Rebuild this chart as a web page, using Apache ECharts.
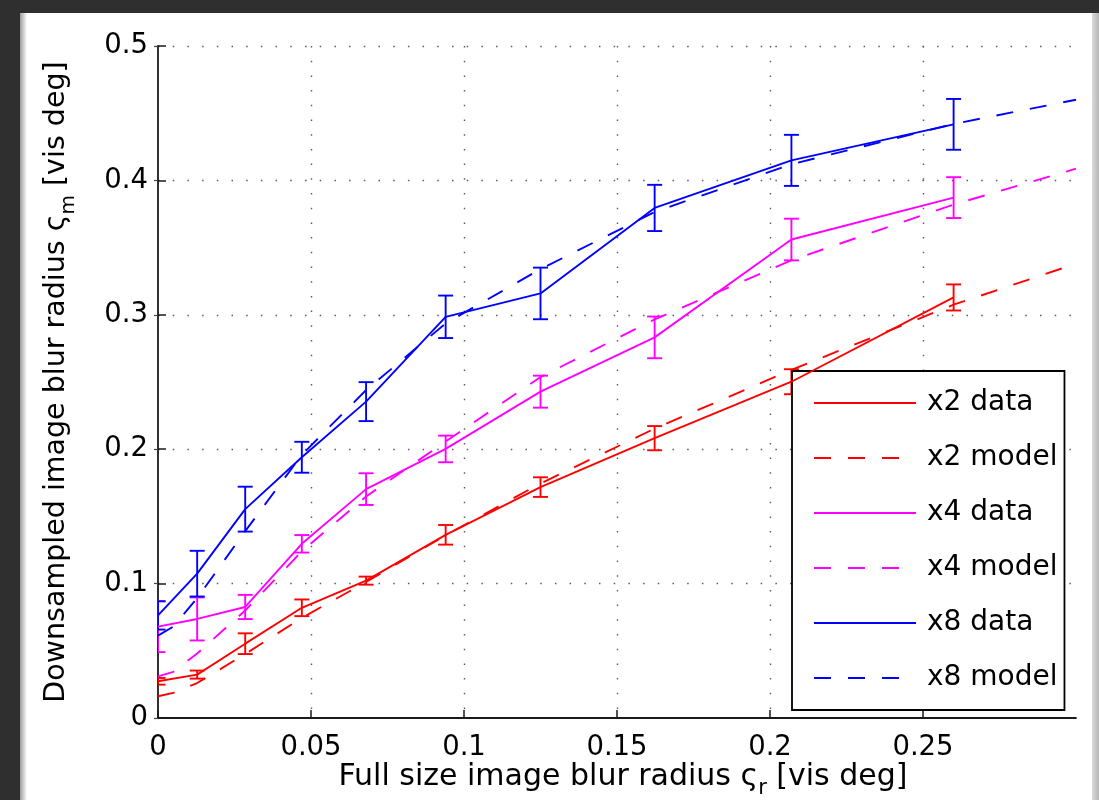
<!DOCTYPE html>
<html>
<head>
<meta charset="utf-8">
<script src="https://cdn.jsdelivr.net/npm/echarts@6/dist/echarts.min.js"></script>
<style>
  html, body { margin: 0; padding: 0; width: 1099px; height: 800px; overflow: hidden; background: #2f2f2f; }
  #sheet { position: absolute; left: 20px; top: 13px; width: 1072px; height: 787px; background: #fff; }
  #sheet:before { content: ''; position: absolute; left: 0; top: 0; width: 7px; height: 100%;
                  background: linear-gradient(to right, #9c9c9c, #ffffff); }
  #edge { position: absolute; left: 1092px; top: 13px; width: 7px; height: 787px;
          background: linear-gradient(to right, #dcdcdc, #b4b4b4); }
  #chart { position: absolute; left: 0; top: 0; width: 1099px; height: 800px; }
</style>
</head>
<body>
<div id="sheet"></div>
<div id="edge"></div>
<div id="chart"></div>
<script>
// Measured blur radii at each full-size blur level (vis deg)
const sampleX = [0, 0.0128, 0.0285, 0.047, 0.068, 0.094, 0.125, 0.1623, 0.207, 0.26];
const x2Data  = [0.0273, 0.0323, 0.0553, 0.0820, 0.1022, 0.1363, 0.1718, 0.2082, 0.2502, 0.3129];
const x2Err   = [0.0025, 0.0030, 0.0077, 0.0062, 0.0030, 0.0073, 0.0073, 0.0090, 0.0093, 0.0097];
const x4Data  = [0.0680, 0.0737, 0.0826, 0.1296, 0.1703, 0.2002, 0.2428, 0.2832, 0.3560, 0.3872];
const x4Err   = [0.0190, 0.0160, 0.0090, 0.0065, 0.0118, 0.0099, 0.0119, 0.0155, 0.0155, 0.0152];
const x8Data  = [0.0763, 0.1074, 0.1554, 0.1940, 0.2354, 0.2985, 0.3159, 0.3795, 0.4149, 0.4417];
const x8Err   = [0.0105, 0.0170, 0.0167, 0.0115, 0.0145, 0.0158, 0.0192, 0.0172, 0.0190, 0.0189];

// Model predictions
const modelX  = [0, 0.005, 0.0128, 0.0285, 0.047, 0.068, 0.094, 0.125, 0.1623, 0.207, 0.26, 0.3];
const x2Model = [0.0162, 0.0187, 0.0260, 0.0476, 0.0745, 0.1012, 0.1360, 0.1745, 0.2153, 0.2590, 0.3075, 0.3380];
const x4Model = [0.0310, 0.0343, 0.0480, 0.0800, 0.1240, 0.1648, 0.2057, 0.2537, 0.2966, 0.3406, 0.3820, 0.4087];
const x8Model = [0.0613, 0.0680, 0.0892, 0.1390, 0.1958, 0.2440, 0.2936, 0.3340, 0.3765, 0.4120, 0.4420, 0.4600];

const xTicks = [0, 0.05, 0.1, 0.15, 0.2, 0.25, 0.3];
const yTicks = [0, 0.1, 0.2, 0.3, 0.4, 0.5];

const RED = '#ff0000', MAGENTA = '#ff00ff', BLUE = '#0000ff';
const FONT = 'DejaVu Sans';
const DASH = [17, 17];
const LW = 1.9;

function pairs(xs, ys) { return xs.map((x, i) => [x, ys[i]]); }

function lineSeries(name, xs, ys, color, dashed) {
  return {
    type: 'line', name: name, data: pairs(xs, ys),
    symbol: 'none', showSymbol: false, smooth: false,
    lineStyle: { color: color, width: LW, type: dashed ? DASH : 'solid' },
    itemStyle: { color: color },
    z: 4, silent: true
  };
}

function errorBars(name, values, errs, color) {
  return {
    type: 'custom', name: name, clip: true, silent: true, z: 3,
    data: sampleX.map((x, i) => [x, values[i], errs[i]]),
    encode: { x: 0, y: 1 },
    renderItem: function (params, api) {
      const x = api.value(0), y = api.value(1), e = api.value(2);
      const lo = api.coord([x, y - e]);
      const hi = api.coord([x, y + e]);
      const hw = 7.5;
      const style = { stroke: color, lineWidth: LW, fill: null };
      return {
        type: 'group',
        children: [
          { type: 'line', shape: { x1: lo[0], y1: lo[1], x2: hi[0], y2: hi[1] }, style: style },
          { type: 'line', shape: { x1: lo[0] - hw, y1: lo[1], x2: lo[0] + hw, y2: lo[1] }, style: style },
          { type: 'line', shape: { x1: hi[0] - hw, y1: hi[1], x2: hi[0] + hw, y2: hi[1] }, style: style }
        ]
      };
    }
  };
}

const fmt = v => String(+(+v).toFixed(2));
const gridDots = { show: true, lineStyle: { color: '#5a5a5a', width: 1.4, type: [1.5, 13.2] } };

const chart = echarts.init(document.getElementById('chart'), null, { renderer: 'canvas' });
chart.setOption({
  animation: false,
  backgroundColor: 'transparent',
  textStyle: { fontFamily: FONT },
  grid: { left: 158, right: 23, top: 46, bottom: 82, containLabel: false, outerBoundsMode: 'none' },
  xAxis: {
    type: 'value', min: xTicks[0], max: xTicks[xTicks.length - 1], interval: 0.05,
    axisLine: { show: true, onZero: false, lineStyle: { color: '#1a1a1a', width: 1.8 } },
    axisTick: { show: true, inside: true, length: 8, lineStyle: { color: '#1a1a1a', width: 1.5 } },
    axisLabel: { show: true, margin: 16, fontSize: 27.5, color: '#000', fontFamily: FONT,
                 showMaxLabel: false, formatter: fmt },
    splitLine: Object.assign({ showMinLine: false, showMaxLine: false }, gridDots),
    name: '{a|Full size image blur radius ς}{s|r}{a| [vis deg]}',
    nameLocation: 'middle', nameGap: 37, nameMoveOverlap: false,
    nameTextStyle: {
      padding: [0, 0, 0, 12],
      rich: {
        a: { fontSize: 30, fontFamily: FONT, color: '#000', lineHeight: 44 },
        s: { fontSize: 21, fontFamily: FONT, color: '#000', lineHeight: 20, verticalAlign: 'bottom' }
      }
    }
  },
  yAxis: [{
    type: 'value', min: yTicks[0], max: yTicks[yTicks.length - 1], interval: 0.1,
    axisLine: { show: true, onZero: false, lineStyle: { color: '#1a1a1a', width: 1.8 } },
    axisTick: { show: true, inside: true, length: 8, lineStyle: { color: '#1a1a1a', width: 1.5 } },
    axisLabel: { show: true, margin: 10, fontSize: 27.5, color: '#000', fontFamily: FONT, formatter: fmt },
    splitLine: Object.assign({ showMinLine: false, showMaxLine: true }, gridDots),
    name: '{a|Downsampled image blur radius ς}{s|m}{a| [vis deg]}',
    nameLocation: 'middle', nameGap: 79, nameMoveOverlap: false,
    nameTextStyle: {
      rich: {
        a: { fontSize: 28.5, fontFamily: FONT, color: '#000', lineHeight: 44 },
        s: { fontSize: 20, fontFamily: FONT, color: '#000', lineHeight: 20, verticalAlign: 'bottom' }
      }
    }
  }, {
    type: 'value', position: 'right', min: yTicks[0], max: yTicks[yTicks.length - 1], interval: 0.1,
    axisLine: { show: false },
    axisTick: { show: true, inside: true, length: 4, lineStyle: { color: '#444', width: 1.2 } },
    axisLabel: { show: false },
    splitLine: { show: false }
  }],
  legend: {
    orient: 'vertical', left: 792, top: 371,
    data: ['x2 data', 'x2 model', 'x4 data', 'x4 model', 'x8 data', 'x8 model'],
    selectedMode: false,
    backgroundColor: '#fff', borderColor: '#000', borderWidth: 1.8, borderRadius: 0,
    padding: [18, 7, 18, 21],
    itemWidth: 102, itemHeight: 27, itemGap: 27,
    itemStyle: { opacity: 0 },
    textStyle: { fontSize: 28, color: '#000', fontFamily: FONT, padding: [0, 0, 0, 6] }
  },
  series: [
    lineSeries('x2 data', sampleX, x2Data, RED, false),
    lineSeries('x2 model', modelX, x2Model, RED, true),
    lineSeries('x4 data', sampleX, x4Data, MAGENTA, false),
    lineSeries('x4 model', modelX, x4Model, MAGENTA, true),
    lineSeries('x8 data', sampleX, x8Data, BLUE, false),
    lineSeries('x8 model', modelX, x8Model, BLUE, true),
    errorBars('x2 error', x2Data, x2Err, RED),
    errorBars('x4 error', x4Data, x4Err, MAGENTA),
    errorBars('x8 error', x8Data, x8Err, BLUE)
  ]
});
</script>
</body>
</html>
